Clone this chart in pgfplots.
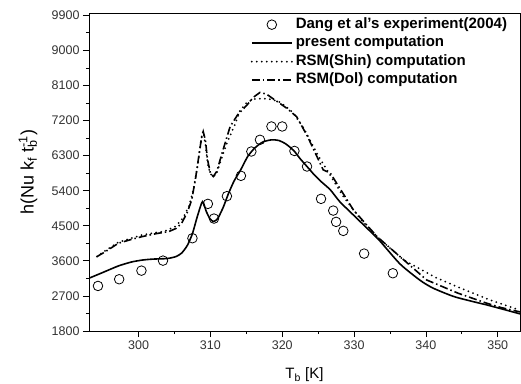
\documentclass[border=0pt]{standalone}
\usepackage{fontspec}
\setmainfont{Liberation Sans}
\usepackage{pgfplots}
\pgfplotsset{compat=1.18}
\newcommand{\legfont}{\fontsize{15}{17}\selectfont\bfseries}
\begin{document}
\begin{tikzpicture}
\begin{axis}[
  name=ax,
  at={(0,0)}, anchor=south west,
  scale only axis, width=431pt, height=318pt,
  xmin=293.1, xmax=353.1, ymin=1800, ymax=9960,
  xtick={300,310,...,350}, ytick={1800,2700,...,9900},
  minor x tick num=1, minor y tick num=1,
  xtick pos=bottom, ytick pos=left, tick align=outside,
  major tick length=6pt, minor tick length=3pt,
  axis line style={line width=0.9pt},
  every tick/.style={black, line width=0.8pt},
  /pgf/number format/assume math mode=true,
  /pgf/number format/1000 sep={},
  tick label style={font=\fontsize{12.5}{15}\selectfont, text=black!80},
  xlabel={T\textsubscript{b} [K]},
  ylabel={h(Nu k\textsubscript{f} t\rlap{\textsubscript{b}}\textsuperscript{-1})},
  xlabel style={font=\fontsize{15}{17}\selectfont, at={(axis description cs:0.5,-0.138)}, anchor=center},
  ylabel style={font=\fontsize{18}{20}\selectfont, at={(axis description cs:-0.1415,0.5)}, anchor=center},
  legend style={at={(axis description cs:0.375,0.993)}, anchor=north west, draw=none, fill=none,
    font=\legfont, inner sep=0pt, row sep=0pt,
    nodes={inner xsep=3pt, inner ysep=2pt, text height=11pt, text depth=3.5pt}},
  legend cell align=left,
  legend image code/.code={\draw[mark repeat=2,mark phase=2,#1] plot coordinates {(0pt,0pt) (20pt,0pt) (40pt,0pt)};},
]
\addplot[only marks, mark=o, mark size=4.8pt, mark options={line width=0.8pt, black}] coordinates {
(294.35,2956) (297.3,3128) (300.4,3349) (303.4,3606) (307.5,4181) (309.65,5062)
(310.5,4685) (312.3,5260) (314.25,5782) (315.7,6406) (316.9,6706) (318.5,7048)
(320.0,7048) (321.7,6420) (323.45,6021) (325.4,5191) (327.1,4890) (327.5,4600)
(328.5,4369) (331.4,3786) (335.4,3282)
};
\addlegendentry{\legfont Dang et al's experiment(2004)}
\addplot[black, line width=1.6pt, smooth, tension=0.4] coordinates {
(293.1,3154) (295,3300) (297.2,3470) (299,3570) (300.5,3620) (302,3645) (304,3660)
(305.2,3710) (306,3800) (306.8,4000) (307.5,4300) (308.2,4750) (308.9,5121)
(309.4,4880) (309.9,4690) (310.4,4610) (311,4680) (311.8,4980) (312.5,5320)
(313.3,5650) (314.2,5930) (315.2,6280) (316.2,6500) (317.3,6650) (318.5,6705)
(319.5,6690) (320.5,6600) (321.6,6430) (322.5,6220) (323.5,6010) (324.5,5800)
(325.5,5620) (326.7,5422) (328,5121) (330,4760) (331.8,4438) (333.5,4130)
(336.4,3520) (339.2,3100) (341,2900) (343.8,2690) (346,2580) (348.5,2468)
(350.5,2370) (353.1,2240)
};
\addlegendentry{\legfont present computation}
\addplot[black, line width=2pt, line cap=round, dash pattern=on 0pt off 5pt] coordinates {
(294.2,3708) (295.5,3880) (297.2,4080) (299,4180) (300.5,4266) (302.5,4330)
(303.5,4351) (305.1,4479) (306.2,4700) (307.0,5000) (307.6,5400) (308.2,6000)
(308.7,6700) (309.0,6919) (309.3,6600) (309.7,6000) (310.2,5764) (310.8,5800)
(311.5,6200) (312.3,6621) (313.4,7091) (314.1,7450) (315.0,7650) (316.0,7750)
(316.9,7760) (318.0,7760) (319.5,7690) (320.5,7560) (321.5,7400) (323,7000)
(325,6300) (327,5700) (328.5,5250) (331,4650) (333.6,4150) (336.9,3624)
(341.4,3169) (345.2,2871) (348.9,2596) (352.6,2365) (353.1,2350)
};
\addlegendentry{\legfont RSM(Shin) computation}
\addplot[black, line width=1.6pt, dash pattern=on 8pt off 3pt on 1.5pt off 3pt] coordinates {
(294.2,3708) (295.5,3850) (297.2,4053) (299,4150) (300.5,4222) (302.5,4300)
(304.2,4351) (305.2,4430) (306,4566) (306.8,4850) (307.4,5165) (307.9,5679)
(308.4,6300) (308.8,6800) (309.0,6920) (309.3,6700) (309.6,6200) (310.0,5850)
(310.4,5764) (310.9,5900) (311.6,6350) (312.75,7048) (313.8,7350) (315.1,7600)
(316.0,7800) (316.9,7921) (317.8,7880) (318.8,7750) (319.6,7650) (320.6,7520)
(322.0,7300) (323.5,6800) (325.7,5936) (326.7,5850) (329.9,4908) (333.2,4222)
(336.4,3708) (340.1,3110) (344.5,2768) (348.5,2511) (350.5,2400) (353.1,2290)
};
\addlegendentry{\legfont RSM(Dol) computation}
\end{axis}
\pgfresetboundingbox
\path[use as bounding box] (-89pt,-52pt) rectangle (432pt,331pt);
\end{tikzpicture}
\end{document}
